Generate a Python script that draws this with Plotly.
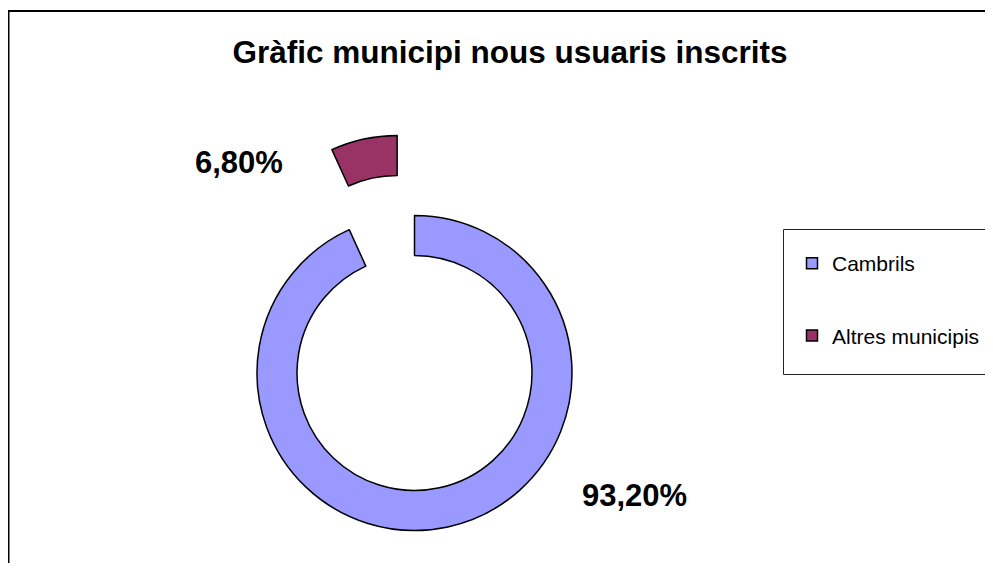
import math
import plotly.graph_objects as go

# ---- data ----
labels = ["Cambrils", "Altres municipis"]
values = [93.2, 6.8]
colors = ["#9999FF", "#993366"]
title_text = "Gràfic municipi nous usuaris inscrits"

# ---- page geometry (browser body has 8px margin) ----
OFF = 8
W, H = 977, 555


def fx(px):
    return (px - OFF) / W


def fy(py):
    return 1 - (py - OFF) / H


CX, CY, R = 414.5, 373.0, 157.5
HOLE = 0.746
PULL = 0.52
FONT = "Liberation Sans, Arial, sans-serif"
TRANSP = "rgba(0,0,0,0)"

total = sum(values)
pct_text = [f"{v / total * 100:.2f}%".replace(".", ",") for v in values]

# bisector of the pulled (last) slice, clockwise from 12 o'clock
start_deg = sum(values[:-1]) / total * 360
mid = math.radians(start_deg + values[-1] / total * 360 / 2)
dx = PULL * R * math.sin(mid)
dy = -PULL * R * math.cos(mid)

fig = go.Figure()

# main ring (Cambrils) – the pulled slice is left empty here
fig.add_trace(go.Pie(
    labels=labels, values=values, sort=False, direction="clockwise", rotation=0,
    hole=HOLE, textinfo="none", hoverinfo="label+percent", showlegend=False,
    marker=dict(colors=[colors[0], TRANSP],
                line=dict(color=["black", TRANSP], width=1.5)),
    domain=dict(x=[fx(CX - R), fx(CX + R)], y=[fy(CY + R), fy(CY - R)]),
))

# pulled-out slice (Altres municipis)
fig.add_trace(go.Pie(
    labels=labels, values=values, sort=False, direction="clockwise", rotation=0,
    hole=HOLE, textinfo="none", hoverinfo="label+percent", showlegend=False,
    marker=dict(colors=[TRANSP, colors[1]],
                line=dict(color=[TRANSP, "black"], width=1.5)),
    domain=dict(x=[fx(CX + dx - R), fx(CX + dx + R)],
                y=[fy(CY + dy + R), fy(CY + dy - R)]),
))

# legend entries
for lab, col in zip(labels, colors):
    fig.add_trace(go.Scatter(
        x=[None], y=[None], mode="markers", name=lab, legendgroup=lab,
        marker=dict(symbol="square", size=11, color=col,
                    line=dict(color="black", width=1.5)),
    ))

fig.update_layout(
    width=W, height=H, autosize=False,
    margin=dict(l=0, r=0, t=0, b=0),
    paper_bgcolor="white", plot_bgcolor="white",
    xaxis=dict(visible=False), yaxis=dict(visible=False),
    font=dict(family=FONT, color="black"),
    title=dict(text=title_text, x=fx(510), y=fy(52), xref="paper", yref="container",
               xanchor="center", yanchor="middle",
               font=dict(size=31.5, family=FONT, weight="bold", color="black")),
    showlegend=True,
    legend=dict(x=fx(792), y=fy(243), xanchor="left", yanchor="top",
                font=dict(size=21, family=FONT, color="black"),
                bgcolor=TRANSP, borderwidth=0, tracegroupgap=42,
                traceorder="grouped"),
    shapes=[
        dict(type="rect", xref="paper", yref="paper",
             x0=fx(8.5), y0=fy(11), x1=fx(1010), y1=fy(600),
             line=dict(color="black", width=2), fillcolor=TRANSP),
        dict(type="rect", xref="paper", yref="paper",
             x0=fx(783.5), y0=fy(229.5), x1=fx(1010), y1=fy(374.5),
             line=dict(color="#222222", width=1), fillcolor=TRANSP),
    ],
    annotations=[
        dict(text=pct_text[1], x=fx(238.5), y=fy(162.5), xref="paper", yref="paper",
             showarrow=False, xanchor="center", yanchor="middle",
             font=dict(size=31, family=FONT, weight="bold", color="black")),
        dict(text=pct_text[0], x=fx(634), y=fy(495), xref="paper", yref="paper",
             showarrow=False, xanchor="center", yanchor="middle",
             font=dict(size=31, family=FONT, weight="bold", color="black")),
    ],
)

fig.write_html("out.html")
